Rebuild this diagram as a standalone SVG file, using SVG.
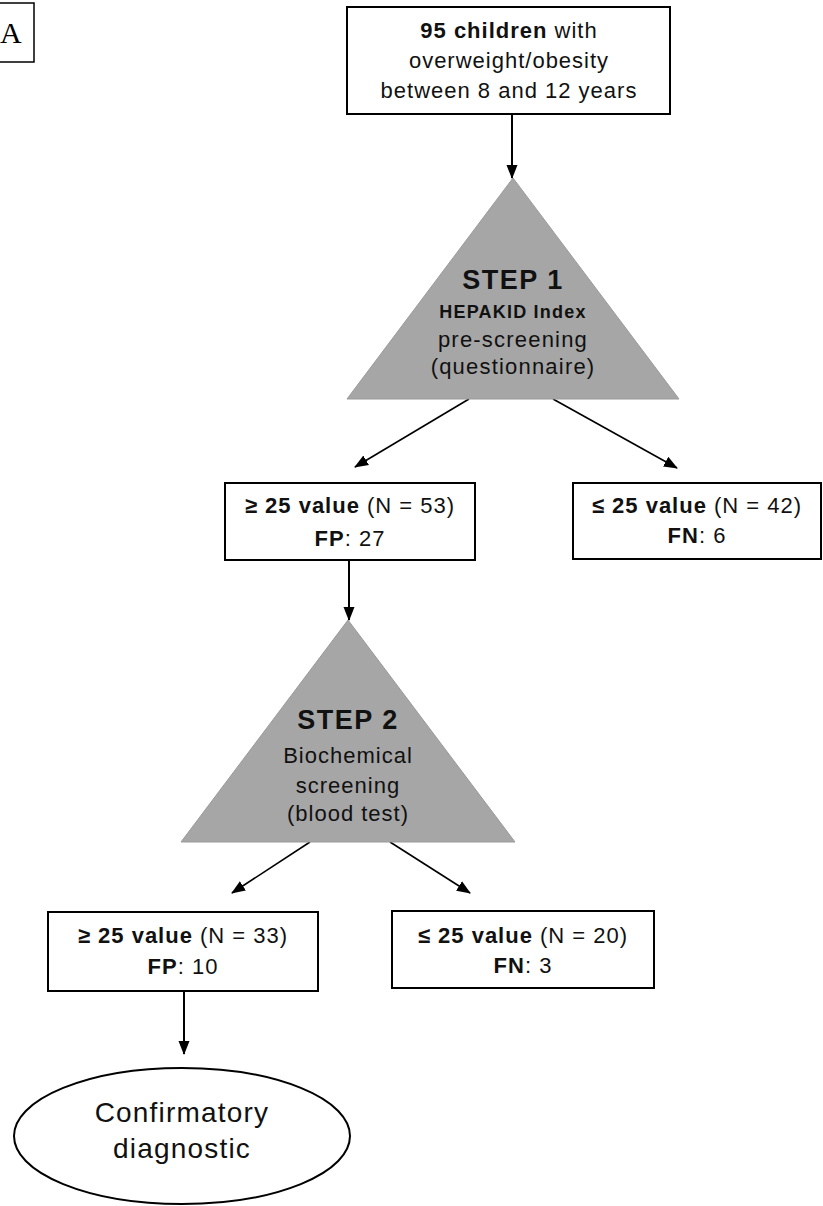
<svg xmlns="http://www.w3.org/2000/svg" width="823" height="1206" viewBox="0 0 823 1206">
<style>
.box{fill:#fff;stroke:#000;stroke-width:2}
.tri{fill:#a6a6a6;stroke:#9a9a9a;stroke-width:1}
.t{font-family:"Liberation Sans",Arial,sans-serif;font-size:22px;letter-spacing:1px;fill:#111;text-anchor:middle}
.b{font-weight:bold}
.step{font-family:"Liberation Sans",Arial,sans-serif;font-size:27px;font-weight:bold;letter-spacing:1.5px;fill:#111;text-anchor:middle}
.conn{stroke:#000;fill:none}
</style>
<defs>
<marker id="ah" markerUnits="userSpaceOnUse" markerWidth="14" markerHeight="14" refX="13" refY="7" orient="auto" viewBox="0 0 14 14">
<path d="M0,1.5 L14,7 L0,12.5 z" fill="#000"/>
</marker>
</defs>
<rect width="823" height="1206" fill="#fff"/>
<g id="label-a">
<rect x="-1" y="3" width="35" height="59" fill="#fff" stroke="#000" stroke-width="1.5"/>
<text x="0" y="43" font-family="Liberation Serif,'Times New Roman',serif" font-size="30" fill="#000">A</text>
</g>
<g id="connectors">
<line class="conn" x1="512" y1="114" x2="512" y2="178" stroke-width="2" marker-end="url(#ah)"/>
<line class="conn" x1="469" y1="399" x2="355" y2="467" stroke-width="1.6" marker-end="url(#ah)"/>
<line class="conn" x1="553" y1="399" x2="677" y2="468" stroke-width="1.6" marker-end="url(#ah)"/>
<line class="conn" x1="349" y1="560" x2="349" y2="620" stroke-width="2" marker-end="url(#ah)"/>
<line class="conn" x1="310" y1="842" x2="232" y2="893" stroke-width="1.6" marker-end="url(#ah)"/>
<line class="conn" x1="390" y1="842" x2="470" y2="893" stroke-width="1.6" marker-end="url(#ah)"/>
<line class="conn" x1="184" y1="991" x2="184" y2="1054" stroke-width="2" marker-end="url(#ah)"/>
</g>
<g id="start">
<rect class="box" x="347" y="7" width="323" height="107"/>
<text class="t" x="509" y="38"><tspan class="b">95 children</tspan> with</text>
<text class="t" x="509" y="68">overweight/obesity</text>
<text class="t" x="509" y="98">between 8 and 12 years</text>
</g>
<g id="step1">
<polygon class="tri" points="513,178 347,399 679,399"/>
<text class="step" x="513" y="289">STEP 1</text>
<text class="t b" x="513" y="318" style="font-size:18px;letter-spacing:1.2px">HEPAKID Index</text>
<text class="t" x="513" y="347" style="letter-spacing:1.2px">pre-screening</text>
<text class="t" x="513" y="374" style="letter-spacing:1.2px">(questionnaire)</text>
</g>
<g id="pos1">
<rect class="box" x="225" y="483" width="250" height="77"/>
<text class="t" x="350" y="513"><tspan class="b">≥ 25 value</tspan> (N = 53)</text>
<text class="t" x="350" y="546"><tspan class="b">FP</tspan>: 27</text>
</g>
<g id="neg1">
<rect class="box" x="573" y="483" width="248" height="76"/>
<text class="t" x="697" y="513"><tspan class="b">≤ 25 value</tspan> (N = 42)</text>
<text class="t" x="697" y="543"><tspan class="b">FN</tspan>: 6</text>
</g>
<g id="step2">
<polygon class="tri" points="348,620 181,842 515,842"/>
<text class="step" x="348" y="729">STEP 2</text>
<text class="t" x="348" y="763">Biochemical</text>
<text class="t" x="348" y="793">screening</text>
<text class="t" x="348" y="821">(blood test)</text>
</g>
<g id="pos2">
<rect class="box" x="48" y="912" width="270" height="79"/>
<text class="t" x="183" y="943"><tspan class="b">≥ 25 value</tspan> (N = 33)</text>
<text class="t" x="183" y="974"><tspan class="b">FP</tspan>: 10</text>
</g>
<g id="neg2">
<rect class="box" x="392" y="911" width="262" height="77"/>
<text class="t" x="523" y="943"><tspan class="b">≤ 25 value</tspan> (N = 20)</text>
<text class="t" x="523" y="973"><tspan class="b">FN</tspan>: 3</text>
</g>
<g id="confirm">
<ellipse cx="182" cy="1136" rx="168" ry="68" fill="#fff" stroke="#000" stroke-width="2"/>
<text class="t" x="182" y="1122" style="font-size:28px;letter-spacing:1.2px">Confirmatory</text>
<text class="t" x="182" y="1158" style="font-size:28px;letter-spacing:1.2px">diagnostic</text>
</g>
</svg>
